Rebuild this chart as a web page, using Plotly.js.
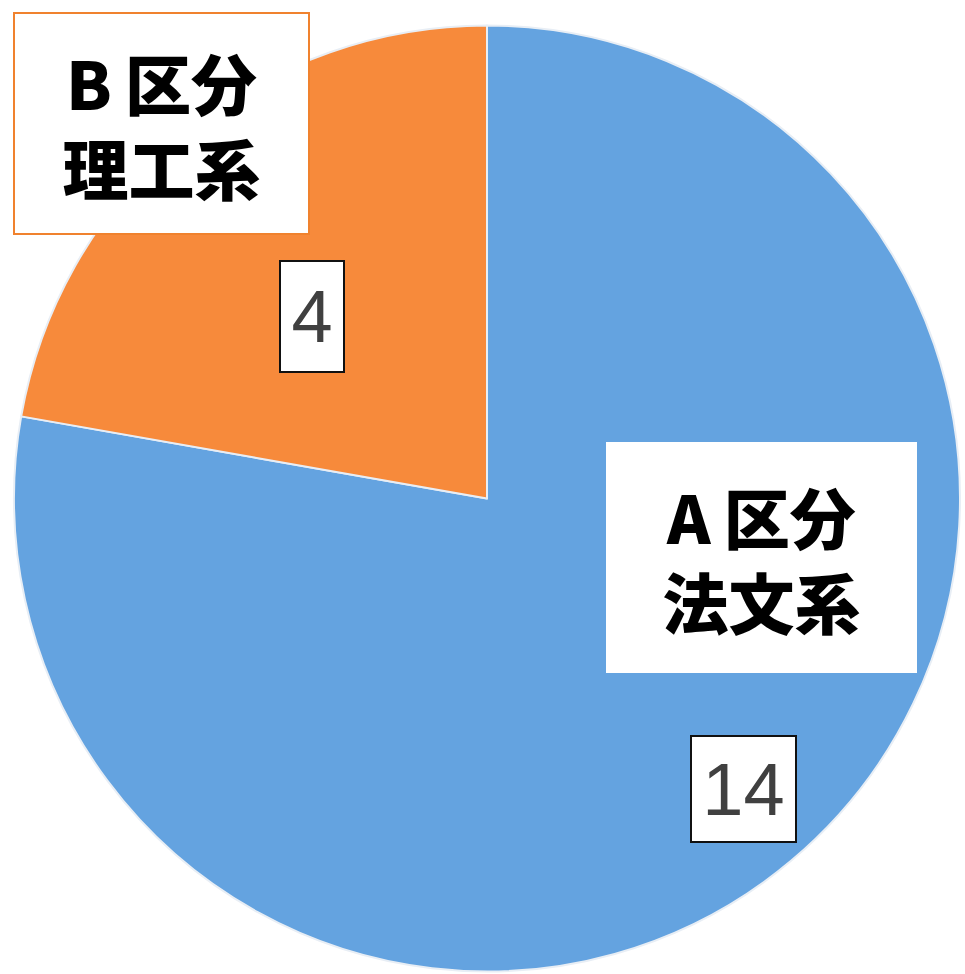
<!DOCTYPE html>
<html>
<head>
<meta charset="utf-8">
<script src="https://cdn.plot.ly/plotly-3.0.1.min.js"></script>
<style>
  html, body { margin: 0; padding: 0; background: #ffffff; }
  #chart { width: 965px; height: 974px; }
</style>
</head>
<body>
<div id="chart"></div>
<script>
// ---- data ----
const categories = ["A区分", "B区分"];
const fields = ["法文系", "理工系"];
const counts = [14, 4];
const sliceColors = ["#64A3E0", "#F78A3B"];

// ---- label placement (pixels in the 965x974 page) ----
const W = 965, H = 974;
const px = (x) => x / W;
const py = (y) => 1 - y / H;

const nameBoxes = [
  { cx: 761.5, cy: 557,   w: 311, h: 231, border: "#64A3E0" },
  { cx: 161.5, cy: 123.5, w: 293, h: 219, border: "#F0822E" }
];
const valueBoxes = [
  { cx: 743.5, cy: 789,   w: 103, h: 104 },
  { cx: 311.5, cy: 316.5, w: 62,  h: 109 }
];

const cjkFont = "Noto Sans CJK JP, Noto Sans CJK SC, sans-serif";
const numFont = "Liberation Sans Narrow, Liberation Sans, Arial, sans-serif";

const annotations = [];
categories.forEach((cat, i) => {
  const nb = nameBoxes[i];
  const catHtml = cat.replace(/^([A-Z])/, "$1\u2009");
  annotations.push({
    xref: "paper", yref: "paper",
    x: px(nb.cx), y: py(nb.cy),
    xanchor: "center", yanchor: "middle",
    showarrow: false,
    text: catHtml + "<br>" + fields[i],
    font: { family: cjkFont, size: 66, color: "#000000", weight: 900 },
    align: "center", valign: "middle",
    width: nb.w, height: nb.h,
    bgcolor: "#ffffff",
    bordercolor: nb.border, borderwidth: 2, borderpad: 0
  });
  const vb = valueBoxes[i];
  annotations.push({
    xref: "paper", yref: "paper",
    x: px(vb.cx), y: py(vb.cy),
    xanchor: "center", yanchor: "middle",
    showarrow: false,
    text: String(counts[i]),
    font: { family: numFont, size: 74, color: "#404040" },
    align: "center", valign: "middle",
    width: vb.w, height: vb.h,
    bgcolor: "#ffffff",
    bordercolor: "#111111", borderwidth: 2, borderpad: 0
  });
});

const trace = {
  type: "pie",
  labels: categories.map((c, i) => c + fields[i]),
  values: counts,
  sort: false,
  direction: "clockwise",
  rotation: 0,
  textinfo: "none",
  hoverinfo: "none",
  showlegend: false,
  marker: {
    colors: sliceColors,
    line: { color: "#e8eef5", width: 2 }
  },
  domain: { x: [px(14), px(960)], y: [py(972), py(25)] }
};

const layout = {
  width: W, height: H,
  margin: { l: 0, r: 0, t: 0, b: 0 },
  paper_bgcolor: "#ffffff",
  plot_bgcolor: "#ffffff",
  showlegend: false,
  annotations: annotations
};

Plotly.newPlot("chart", [trace], layout, { displayModeBar: false, staticPlot: true });
</script>
</body>
</html>
